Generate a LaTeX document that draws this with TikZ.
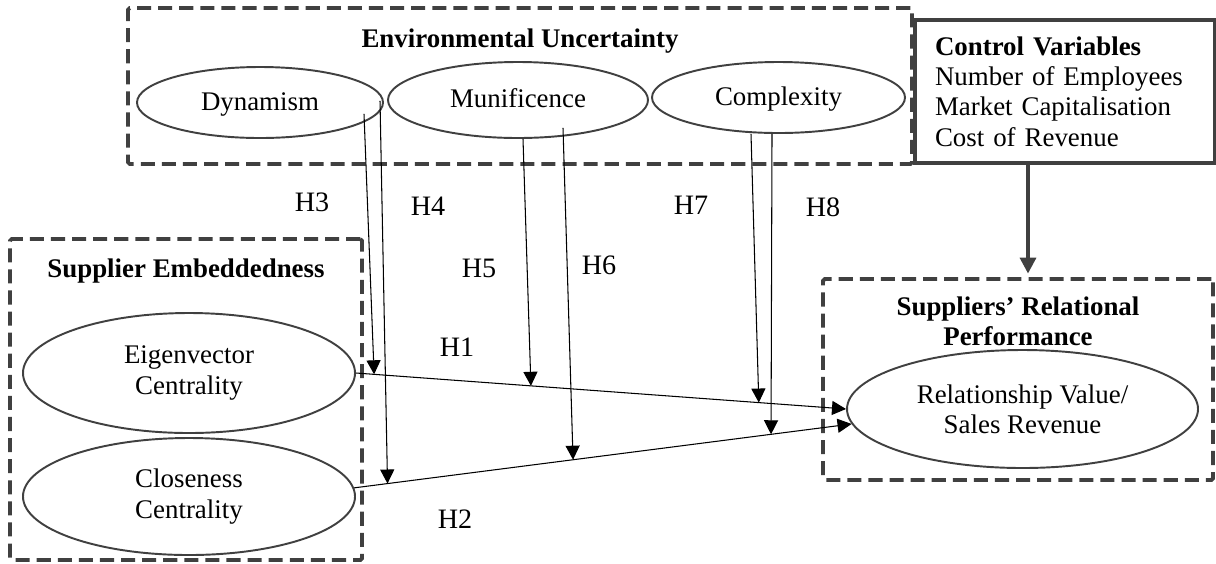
\documentclass[tikz,border=0pt]{standalone}
\usepackage{fontspec}
\setmainfont{Liberation Serif}
\usetikzlibrary{shapes.geometric,arrows.meta}
\definecolor{boxgray}{RGB}{64,64,64}
\begin{document}
\begin{tikzpicture}[x=0.2mm,y=-0.2mm,every node/.style={font=\fontsize{15.3}{17.2}\selectfont},group/.style={draw=boxgray,line width=2.2pt,dash pattern=on 8pt off 4pt,rounded corners=1pt,inner sep=0pt},construct/.style={shape=ellipse,draw=boxgray,line width=1.1pt,inner sep=0pt,align=center},constructS/.style={construct,text height=0.9em,text depth=0em},grouptitle/.style={font=\fontsize{15.3}{17.2}\selectfont\bfseries,align=center},hyp/.style={draw=black,line width=0.6pt,-{Triangle[length=8pt,width=8pt]}},hlabel/.style={font=\fontsize{16}{18}\selectfont}]
\useasboundingbox (0,0) rectangle (1216,563);

\node[group,minimum width=15.68cm,minimum height=3.12cm] (EU) at (520,86) {};
\node[group,minimum width=7.04cm,minimum height=6.42cm] (SE) at (186,399.5) {};
\node[group,minimum width=7.8cm,minimum height=4.02cm] (SRP) at (1018,379.5) {};
\node[draw=boxgray,line width=1.8pt,minimum width=6cm,minimum height=2.86cm,text width=5.2cm,align=left,inner sep=0pt] (CV) at (1065,91.5) {\textbf{Control Variables}\\Number of Employees\\Market Capitalisation\\Cost of Revenue};

\node[grouptitle] (EUt) at (520,41) {Environmental Uncertainty};
\node[grouptitle] (SEt) at (186,271) {Supplier Embeddedness};
\node[grouptitle] (SRPt) at (1018,321) {Suppliers’ Relational\\Performance};

\node[constructS,minimum width=4.92cm,minimum height=1.42cm] (dyn) at (260,102.5) {Dynamism};
\node[constructS,minimum width=5.2cm,minimum height=1.52cm] (mun) at (518,100) {Munificence};
\node[constructS,minimum width=5.06cm,minimum height=1.42cm] (com) at (778.5,97.5) {Complexity};
\node[construct,minimum width=6.64cm,minimum height=2.4cm] (eig) at (189,373) {Eigenvector\\Centrality};
\node[construct,minimum width=6.64cm,minimum height=2.34cm] (clo) at (189,496.5) {Closeness\\Centrality};
\node[construct,minimum width=7.02cm,minimum height=2.36cm] (rv) at (1022.5,409) {Relationship Value/\\Sales Revenue};

\draw[hyp] (eig.east) -- (rv.west);
\draw[hyp] (clo.3) -- (rv.185);
\path (eig.east) -- (rv.west) coordinate[pos=0.037] (m3) coordinate[pos=0.357] (m5) coordinate[pos=0.822] (m7);
\path (clo.3) -- (rv.185) coordinate[pos=0.067] (m4) coordinate[pos=0.44] (m6) coordinate[pos=0.838] (m8);

\draw[hyp] ([xshift=2.08cm,yshift=0.5cm]dyn.south) -- (m3);
\draw[hyp] ([xshift=2.4cm,yshift=0.76cm]dyn.south) -- (m4);
\draw[hyp] ([xshift=0.1cm]mun.south) -- (m5);
\draw[hyp] ([xshift=0.9cm,yshift=0.22cm]mun.south) -- (m6);
\draw[hyp] ([xshift=-0.55cm]com.south) -- (m7);
\draw[hyp] ([xshift=-0.13cm]com.south) -- (m8);

\draw[draw=boxgray,line width=2pt,-{Triangle[length=9pt,width=9pt]},shorten >=2pt] ([xshift=-0.74cm]CV.south) -- ([xshift=-0.74cm]CV.south |- SRP.north);

\node[hlabel] (H1) at (457,347) {H1};
\node[hlabel] (H2) at (455,519) {H2};
\node[hlabel] (H3) at (312,202) {H3};
\node[hlabel] (H4) at (428,206) {H4};
\node[hlabel] (H5) at (479,268) {H5};
\node[hlabel] (H6) at (599,265) {H6};
\node[hlabel] (H7) at (691,205) {H7};
\node[hlabel] (H8) at (823,207) {H8};
\end{tikzpicture}
\end{document}
